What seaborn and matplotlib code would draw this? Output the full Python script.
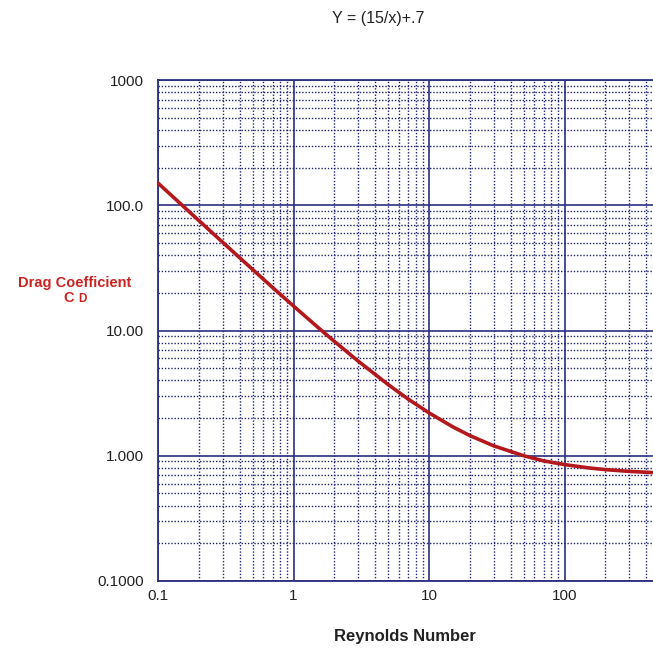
"""
Drag coefficient vs Reynolds number - log/log chart
"""
import matplotlib
matplotlib.use('Agg')
import matplotlib.pyplot as plt
import seaborn as sns
import pandas as pd
from matplotlib.ticker import LogLocator, FixedLocator, FixedFormatter, NullFormatter

# Data
reynolds = [0.1, 0.15, 0.2, 0.3, 0.5, 0.7, 1, 1.5, 2, 3, 5, 7, 10, 15, 20, 30,
            50, 70, 100, 150, 200, 300, 500, 700, 1000]
drag = [150.7, 100.7, 75.7, 50.7, 30.7, 22.1, 15.7, 10.7, 8.2, 5.7, 3.7, 2.84,
        2.2, 1.7, 1.45, 1.2, 1.0, 0.91, 0.85, 0.8, 0.775, 0.75, 0.73, 0.72, 0.715]

# the 1000 column sits past the right edge of the picture, so no label there
x_ticks = [0.1, 1, 10, 100, 1000]
x_labels = ['0.1', '1', '10', '100', '']
y_ticks = [0.1, 1, 10, 100, 1000]
y_labels = ['0.1000', '1.000', '10.00', '100.0', '1000']

df = pd.DataFrame({'Re': reynolds, 'Cd': drag})

sns.set_style('white')
plt.rcParams['font.family'] = ['Liberation Sans', 'DejaVu Sans']

navy = '#2b2f7e'
red = '#b3191c'

fig = plt.figure(figsize=(6.53, 6.52), dpi=100)
ax = fig.add_axes([0.242, 0.109, 0.830, 0.768])

sns.lineplot(data=df, x='Re', y='Cd', ax=ax, color=red, lw=2.6, zorder=5)
ax.set_xscale('log')
ax.set_yscale('log')
ax.set_xlim(0.1, 1000)
ax.set_ylim(0.1, 1000)

ax.xaxis.set_major_locator(FixedLocator(x_ticks))
ax.xaxis.set_major_formatter(FixedFormatter(x_labels))
ax.yaxis.set_major_locator(FixedLocator(y_ticks))
ax.yaxis.set_major_formatter(FixedFormatter(y_labels))
ax.xaxis.set_minor_locator(LogLocator(base=10, subs=range(2, 10), numticks=20))
ax.yaxis.set_minor_locator(LogLocator(base=10, subs=range(2, 10), numticks=20))
ax.xaxis.set_minor_formatter(NullFormatter())
ax.yaxis.set_minor_formatter(NullFormatter())

ax.grid(True, which='major', color=navy, lw=1.2, ls='-')
ax.grid(True, which='minor', color='#1f2370', lw=1.0, ls=(0, (1, 1.3)))
ax.tick_params(axis='x', which='both', length=0, labelsize=11, pad=6, colors='#222222')
ax.tick_params(axis='y', which='both', length=0, labelsize=11, pad=10, colors='#222222')
for s in ax.spines.values():
    s.set_color(navy)
    s.set_linewidth(1.3)

ax.set_xlabel('')
ax.set_ylabel('')

fig.text(0.579, 0.972, 'Y = (15/x)+.7', ha='center', va='center', fontsize=11.5, color='#222222')
fig.text(0.620, 0.024, 'Reynolds Number', ha='center', va='center', fontsize=12,
         fontweight='bold', color='#222222')
fig.text(0.115, 0.566, 'Drag Coefficient', ha='center', va='center', fontsize=10.5,
         fontweight='bold', color='#cc2222')
fig.text(0.105, 0.543, 'C', ha='center', va='center', fontsize=10.5,
         fontweight='bold', color='#cc2222')
fig.text(0.127, 0.541, 'D', ha='center', va='center', fontsize=8.5,
         fontweight='bold', color='#cc2222')

fig.savefig('out.png', dpi=100)
